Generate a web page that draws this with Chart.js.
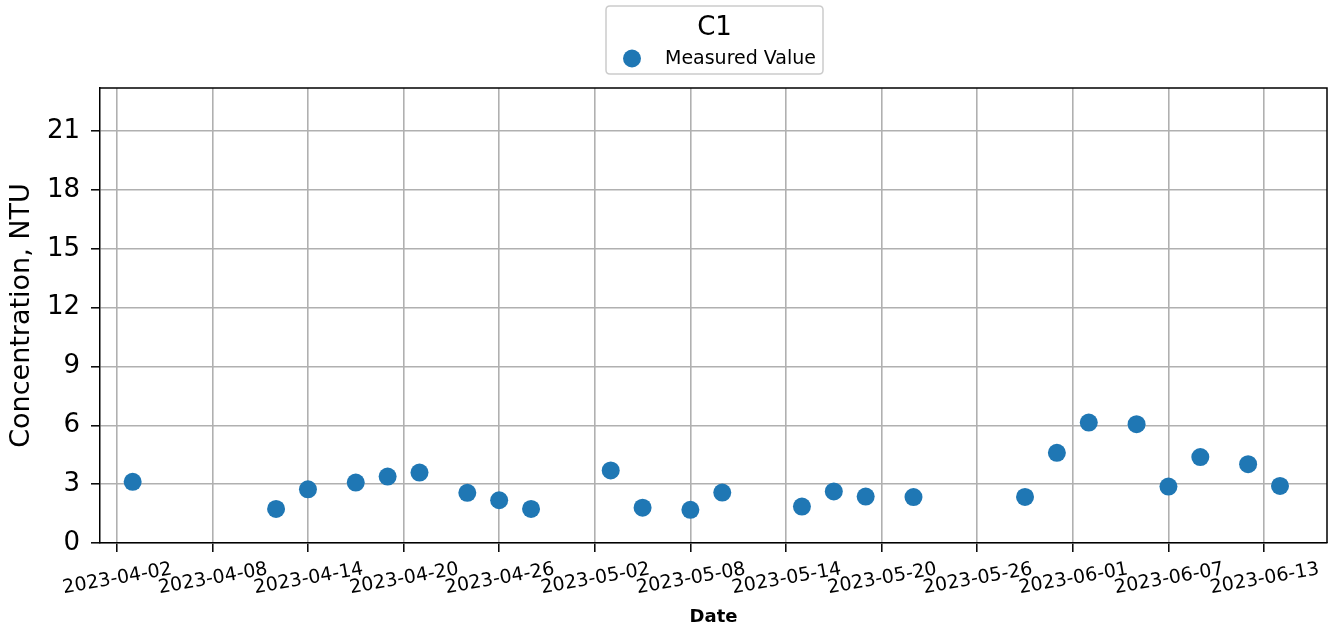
<!DOCTYPE html>
<html>
<head>
<meta charset="utf-8">
<script src="https://cdn.jsdelivr.net/npm/chart.js@4.4.1/dist/chart.umd.min.js"></script>
<style>
  html, body { margin: 0; padding: 0; background: #ffffff; }
  #wrap { width: 1336px; height: 629px; }
</style>
</head>
<body>
<div id="wrap"><canvas id="c" width="1336" height="629"></canvas></div>
<script>
// ---- data ----
const sampleDates = ['2023-04-03','2023-04-12','2023-04-14','2023-04-17','2023-04-19','2023-04-21',
  '2023-04-24','2023-04-26','2023-04-28','2023-05-03','2023-05-05','2023-05-08','2023-05-10',
  '2023-05-15','2023-05-17','2023-05-19','2023-05-22','2023-05-29','2023-05-31','2023-06-02',
  '2023-06-05','2023-06-07','2023-06-09','2023-06-12','2023-06-14'];
const measuredValues = [3.12,1.74,2.74,3.08,3.39,3.59,2.56,2.18,1.74,3.70,1.80,1.69,2.57,
  1.86,2.63,2.37,2.34,2.35,4.60,6.14,6.06,2.88,4.38,4.02,2.91];
const xTickDates = ['2023-04-02','2023-04-08','2023-04-14','2023-04-20','2023-04-26','2023-05-02',
  '2023-05-08','2023-05-14','2023-05-20','2023-05-26','2023-06-01','2023-06-07','2023-06-13'];
const yTickValues = [0,3,6,9,12,15,18,21];
const seriesName = 'Measured Value';
const legendTitle = 'C1';
const xAxisTitle = 'Date';
const yAxisTitle = 'Concentration, NTU';

// ---- helpers: dates -> day offsets from 2023-04-02 ----
const EPOCH = Date.UTC(2023, 3, 2);
function toDay(s) {
  const p = s.split('-').map(Number);
  return (Date.UTC(p[0], p[1] - 1, p[2]) - EPOCH) / 86400000;
}
function fromDay(d) {
  const dt = new Date(EPOCH + Math.round(d) * 86400000);
  const m = String(dt.getUTCMonth() + 1).padStart(2, '0');
  const dd = String(dt.getUTCDate()).padStart(2, '0');
  return dt.getUTCFullYear() + '-' + m + '-' + dd;
}
const points = sampleDates.map((d, i) => ({ x: toDay(d), y: measuredValues[i] }));
const xTickDays = xTickDates.map(toDay);

const FONT = "'DejaVu Sans', sans-serif";

const framePlugin = {
  id: 'frameAndLegend',
  afterDraw(chart) {
    const ctx = chart.ctx;
    const a = chart.chartArea;
    ctx.save();
    // top & right spines
    ctx.strokeStyle = '#000';
    ctx.lineWidth = 1.5;
    ctx.beginPath();
    ctx.moveTo(a.left, a.top);
    ctx.lineTo(a.right, a.top);
    ctx.lineTo(a.right, a.bottom);
    ctx.stroke();
    // legend box
    const bx = 606, by = 6, bw = 217, bh = 68, r = 4;
    ctx.beginPath();
    ctx.moveTo(bx + r, by);
    ctx.lineTo(bx + bw - r, by);
    ctx.quadraticCurveTo(bx + bw, by, bx + bw, by + r);
    ctx.lineTo(bx + bw, by + bh - r);
    ctx.quadraticCurveTo(bx + bw, by + bh, bx + bw - r, by + bh);
    ctx.lineTo(bx + r, by + bh);
    ctx.quadraticCurveTo(bx, by + bh, bx, by + bh - r);
    ctx.lineTo(bx, by + r);
    ctx.quadraticCurveTo(bx, by, bx + r, by);
    ctx.closePath();
    ctx.fillStyle = 'rgba(255,255,255,0.8)';
    ctx.fill();
    ctx.strokeStyle = '#cccccc';
    ctx.lineWidth = 1.5;
    ctx.stroke();
    // legend title
    ctx.fillStyle = '#000';
    ctx.font = '26px ' + FONT;
    ctx.textAlign = 'center';
    ctx.textBaseline = 'alphabetic';
    ctx.fillText(legendTitle, 714.5, 35);
    // marker
    ctx.fillStyle = '#1f77b4';
    ctx.beginPath();
    ctx.arc(632, 58.5, 9, 0, Math.PI * 2);
    ctx.fill();
    // label
    ctx.fillStyle = '#000';
    ctx.font = '19px ' + FONT;
    ctx.textAlign = 'left';
    ctx.fillText(seriesName, 665, 64);
    ctx.restore();
  }
};

new Chart(document.getElementById('c'), {
  type: 'scatter',
  data: {
    datasets: [{
      label: seriesName,
      data: points,
      backgroundColor: '#1f77b4',
      borderWidth: 0,
      pointRadius: 9,
      pointHoverRadius: 9
    }]
  },
  options: {
    responsive: false,
    animation: false,
    events: [],
    layout: { padding: { top: 88, right: 7, left: 0, bottom: 0 } },
    plugins: {
      legend: { display: false },
      title: { display: false },
      tooltip: { enabled: false }
    },
    scales: {
      x: {
        type: 'linear',
        min: -1.05,
        max: 75.95,
        afterBuildTicks: (s) => { s.ticks = xTickDays.map(v => ({ value: v })); },
        afterFit: (s) => { s.height = 86; },
        ticks: {
          autoSkip: false,
          minRotation: 10,
          maxRotation: 10,
          labelOffset: 55,
          padding: 6,
          color: '#000',
          font: { family: FONT, size: 19 },
          callback: (v) => fromDay(v)
        },
        grid: {
          color: '#b0b0b0',
          lineWidth: 1.6,
          drawTicks: true,
          tickLength: 9,
          tickColor: '#000',
          tickWidth: 1.5
        },
        border: { display: true, color: '#000', width: 1.5 },
        title: {
          display: true,
          text: xAxisTitle,
          color: '#000',
          font: { family: FONT, size: 18, weight: 'bold' },
          padding: { top: 0, bottom: 1 }
        }
      },
      y: {
        type: 'linear',
        min: 0,
        max: 23.2,
        afterBuildTicks: (s) => { s.ticks = yTickValues.map(v => ({ value: v })); },
        afterFit: (s) => { s.width = 100; },
        ticks: {
          padding: 11,
          color: '#000',
          font: { family: FONT, size: 26 },
          callback: (v) => String(v)
        },
        grid: {
          color: '#b0b0b0',
          lineWidth: 1.6,
          drawTicks: true,
          tickLength: 9,
          tickColor: '#000',
          tickWidth: 1.5
        },
        border: { display: true, color: '#000', width: 1.5 },
        title: {
          display: true,
          text: yAxisTitle,
          color: '#000',
          font: { family: FONT, size: 27 },
          padding: { top: 6, bottom: 0 }
        }
      }
    }
  },
  plugins: [framePlugin]
});
</script>
</body>
</html>
